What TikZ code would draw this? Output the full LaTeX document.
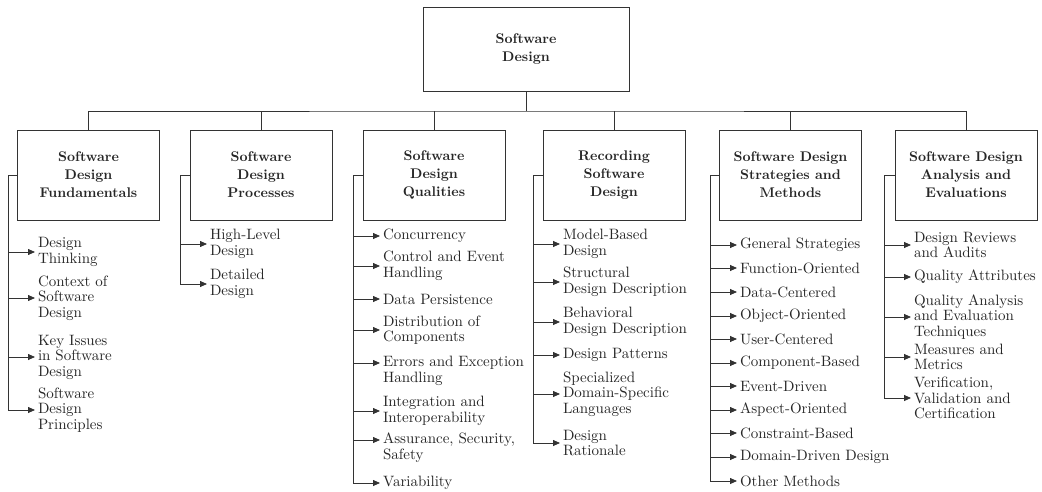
\documentclass[tikz,border=0pt]{standalone}
\usepackage{fontspec}
\setmainfont{lmroman10-regular.otf}[BoldFont=lmroman10-bold.otf]
\usetikzlibrary{arrows.meta}

\tikzset{
    topic/.style={draw=black!80, line width=0.8pt, minimum width=142pt, minimum height=90pt,
        align=center, text=black!85, font=\fontsize{14}{18}\selectfont\bfseries},
    item/.style={anchor=west, align=left, inner sep=3pt, outer sep=0pt,
        text=black!85, font=\fontsize{15}{15.5}\selectfont},
    link/.style={draw=black!80, line width=0.8pt},
    arr/.style={link, -{Triangle[length=7pt,width=6pt]}},
}

\begin{document}
\begin{tikzpicture}[x=1pt, y=-1pt]
    \useasboundingbox (0,0) rectangle (1042,492);

    % Boxes
    \node[topic, minimum width=206pt, minimum height=84pt] (root) at (526,49) {Software\\Design};
    \node[topic] (fund) at (88.5,175) {Software\\Design\\Fundamentals};
    \node[topic] (proc) at (261,175) {Software\\Design\\Processes};
    \node[topic] (qual) at (434,175) {Software\\Design\\Qualities};
    \node[topic] (rec) at (614,175) {Recording\\Software\\Design};
    \node[topic] (strat) at (790.5,175) {Software Design\\Strategies and\\Methods};
    \node[topic] (eval) at (966,175) {Software Design\\Analysis and\\Evaluations};

    % Tree lines
    \coordinate (bus) at (526,111);
    \draw[link] (root.south) -- (bus);
    \draw[link] (fund.north) |- (bus) -| (eval.north);
    \draw[link] (proc.north) -- (proc.north |- bus);
    \draw[link] (qual.north) -- (qual.north |- bus);
    \draw[link] (rec.north) -- (rec.north |- bus);
    \draw[link] (strat.north) -- (strat.north |- bus);

    % Fundamentals
    \coordinate (fundend) at (8,410);
    \node[item] (f1) at (35,252) {Design\\Thinking};
    \node[item] (f2) at (35,298) {Context of\\Software\\Design};
    \node[item] (f3) at (35,357) {Key Issues\\in Software\\Design};
    \node[item] (f4) at (35,410) {Software\\Design\\Principles};
    \draw[link] (fund.west) -| (fundend);
    \draw[arr] (f1.west -| fundend) -- (f1.west);
    \draw[arr] (f2.west -| fundend) -- (f2.west);
    \draw[arr] (f3.west -| fundend) -- (f3.west);
    \draw[arr] (f4.west -| fundend) -- (f4.west);

    % Processes
    \coordinate (procend) at (180,284);
    \node[item] (p1) at (207,244) {High-Level\\Design};
    \node[item] (p2) at (207,284) {Detailed\\Design};
    \draw[link] (proc.west) -| (procend);
    \draw[arr] (p1.west -| procend) -- (p1.west);
    \draw[arr] (p2.west -| procend) -- (p2.west);

    % Qualities
    \coordinate (qualend) at (353,483);
    \node[item] (q1) at (380,236) {Concurrency};
    \node[item] (q2) at (380,266) {Control and Event\\Handling};
    \node[item] (q3) at (380,299) {Data Persistence};
    \node[item] (q4) at (380,330) {Distribution of\\Components};
    \node[item] (q5) at (380,370.75) {Errors and Exception\\Handling};
    \node[item] (q6) at (380,411) {Integration and\\Interoperability};
    \node[item] (q7) at (380,447.75) {Assurance, Security,\\Safety};
    \node[item] (q8) at (380,483) {Variability};
    \coordinate (q5a) at ([yshift=7.75pt]q5.west);
    \coordinate (q7a) at ([yshift=7.75pt]q7.west);
    \draw[link] (qual.west) -| (qualend);
    \draw[arr] (q1.west -| qualend) -- (q1.west);
    \draw[arr] (q2.west -| qualend) -- (q2.west);
    \draw[arr] (q3.west -| qualend) -- (q3.west);
    \draw[arr] (q4.west -| qualend) -- (q4.west);
    \draw[arr] (q5a -| qualend) -- (q5a);
    \draw[arr] (q6.west -| qualend) -- (q6.west);
    \draw[arr] (q7a -| qualend) -- (q7a);
    \draw[arr] (q8.west -| qualend) -- (q8.west);

    % Recording
    \coordinate (recend) at (533,443);
    \node[item] (r1) at (560,244) {Model-Based\\Design};
    \node[item] (r2) at (560,282) {Structural\\Design Description};
    \node[item] (r3) at (560,322) {Behavioral\\Design Description};
    \node[item] (r4) at (560,355) {Design Patterns};
    \node[item] (r5) at (560,394) {Specialized\\Domain-Specific\\Languages};
    \node[item] (r6) at (560,443) {Design\\Rationale};
    \draw[link] (rec.west) -| (recend);
    \draw[arr] (r1.west -| recend) -- (r1.west);
    \draw[arr] (r2.west -| recend) -- (r2.west);
    \draw[arr] (r3.west -| recend) -- (r3.west);
    \draw[arr] (r4.west -| recend) -- (r4.west);
    \draw[arr] (r5.west -| recend) -- (r5.west);
    \draw[arr] (r6.west -| recend) -- (r6.west);

    % Strategies
    \coordinate (stratend) at (710,481);
    \node[item] (s1) at (737,245) {General Strategies};
    \node[item] (s2) at (737,268) {Function-Oriented};
    \node[item] (s3) at (737,292) {Data-Centered};
    \node[item] (s4) at (737,316) {Object-Oriented};
    \node[item] (s5) at (737,339) {User-Centered};
    \node[item] (s6) at (737,363) {Component-Based};
    \node[item] (s7) at (737,386) {Event-Driven};
    \node[item] (s8) at (737,410) {Aspect-Oriented};
    \node[item] (s9) at (737,433) {Constraint-Based};
    \node[item] (s10) at (737,457) {Domain-Driven Design};
    \node[item] (s11) at (737,481) {Other Methods};
    \draw[link] (strat.west) -| (stratend);
    \draw[arr] (s1.west -| stratend) -- (s1.west);
    \draw[arr] (s2.west -| stratend) -- (s2.west);
    \draw[arr] (s3.west -| stratend) -- (s3.west);
    \draw[arr] (s4.west -| stratend) -- (s4.west);
    \draw[arr] (s5.west -| stratend) -- (s5.west);
    \draw[arr] (s6.west -| stratend) -- (s6.west);
    \draw[arr] (s7.west -| stratend) -- (s7.west);
    \draw[arr] (s8.west -| stratend) -- (s8.west);
    \draw[arr] (s9.west -| stratend) -- (s9.west);
    \draw[arr] (s10.west -| stratend) -- (s10.west);
    \draw[arr] (s11.west -| stratend) -- (s11.west);

    % Analysis and evaluations
    \coordinate (evalend) at (884,398);
    \node[item] (e1) at (911,245) {Design Reviews\\and Audits};
    \node[item] (e2) at (911,277) {Quality Attributes};
    \node[item] (e3) at (911,317) {Quality Analysis\\and Evaluation\\Techniques};
    \node[item] (e4) at (911,357) {Measures and\\Metrics};
    \node[item] (e5) at (911,398) {Verification,\\Validation and\\Certification};
    \draw[link] (eval.west) -| (evalend);
    \draw[arr] (e1.west -| evalend) -- (e1.west);
    \draw[arr] (e2.west -| evalend) -- (e2.west);
    \draw[arr] (e3.west -| evalend) -- (e3.west);
    \draw[arr] (e4.west -| evalend) -- (e4.west);
    \draw[arr] (e5.west -| evalend) -- (e5.west);
\end{tikzpicture}
\end{document}
